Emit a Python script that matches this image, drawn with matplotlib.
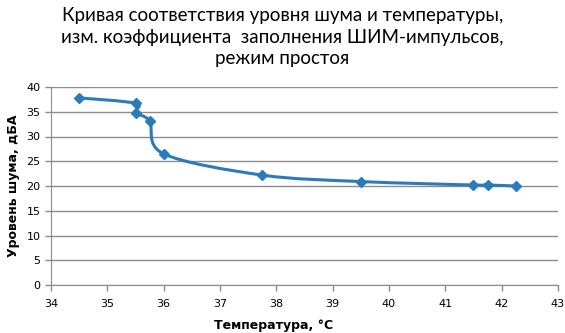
import numpy as np
import matplotlib
matplotlib.use('Agg')
from matplotlib import pyplot as plt
from matplotlib.path import Path
from matplotlib.patches import PathPatch

plt.rcParams['font.family'] = ['DejaVu Sans']

# Данные
temperatura = [34.5, 35.5, 35.5, 35.75, 36.0, 37.75, 39.5, 41.5, 41.75, 42.25]
shum = [37.8, 36.7, 34.8, 33.1, 26.5, 22.2, 20.9, 20.2, 20.2, 20.0]

x_ticks = [34, 35, 36, 37, 38, 39, 40, 41, 42, 43]
y_ticks = [0, 5, 10, 15, 20, 25, 30, 35, 40]

titulo = 'Кривая соответствия уровня шума и температуры,\nизм. коэффициента  заполнения ШИМ-импульсов,\nрежим простоя'
color_linea = '#2b7bba'

fig = plt.figure(figsize=(5.65, 3.33), dpi=100)
ax = fig.add_axes([51/565, 1 - 285/333, (558-51)/565, (285-87)/333])

# Сглаженная линия (как в Excel): кривые Безье
x = np.array(temperatura)
y = np.array(shum)
n = len(x)
verts = [(x[0], y[0])]
codes = [Path.MOVETO]
for i in range(n - 1):
    p0 = np.array([x[max(i-1, 0)], y[max(i-1, 0)]])
    p1 = np.array([x[i], y[i]])
    p2 = np.array([x[i+1], y[i+1]])
    p3 = np.array([x[min(i+2, n-1)], y[min(i+2, n-1)]])
    c1 = p1 + (p2 - p0) / 6.0
    c2 = p2 - (p3 - p1) / 6.0
    verts += [tuple(c1), tuple(c2), tuple(p2)]
    codes += [Path.CURVE4, Path.CURVE4, Path.CURVE4]
ax.add_patch(PathPatch(Path(verts, codes), facecolor='none', edgecolor=color_linea, lw=2.2, zorder=3))
ax.plot(temperatura, shum, linestyle='none', marker='D', markersize=5.5, color=color_linea, zorder=4)

ax.set_xlim(34, 43)
ax.set_ylim(0, 40)
ax.set_xticks(x_ticks)
ax.set_yticks(y_ticks)
ax.grid(axis='y', color='#8c8c8c', lw=1)
ax.set_axisbelow(True)
for s in ['top', 'right']:
    ax.spines[s].set_visible(False)
ax.spines['left'].set_color('#8c8c8c')
ax.spines['bottom'].set_color('#8c8c8c')
ax.tick_params(axis='both', colors='#8c8c8c', labelcolor='black', labelsize=8, length=4, width=1)
ax.tick_params(axis='x', pad=6)

fig.text(274/565, 1 - 325/333, 'Температура, °C', ha='center', va='center', fontsize=9, fontweight='bold')
ax.set_ylabel('Уровень шума, дБА', fontsize=9, fontweight='bold', labelpad=5)
fig.text(0.5, 1 - 37/333, titulo, ha='center', va='center', fontsize=13.5, linespacing=1.3,
         family=['Lato', 'DejaVu Sans'])

fig.savefig('out.png', dpi=100)
